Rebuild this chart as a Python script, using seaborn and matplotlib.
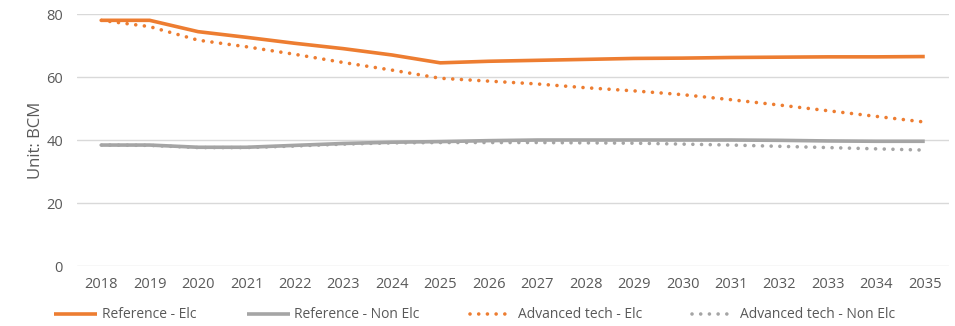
import matplotlib
matplotlib.use("Agg")
import matplotlib.pyplot as plt
import seaborn as sns
import pandas as pd

years = list(range(2018, 2036))
ref_elc = [78.0, 78.0, 74.4, 72.6, 70.7, 69.0, 67.0, 64.5, 65.0, 65.3, 65.6, 65.9, 66.0, 66.2, 66.3, 66.4, 66.4, 66.5]
ref_non = [38.4, 38.4, 37.7, 37.7, 38.3, 38.9, 39.3, 39.5, 39.8, 40.0, 40.0, 40.0, 40.0, 40.0, 39.9, 39.7, 39.6, 39.6]
adv_elc = [78.0, 76.0, 71.7, 69.6, 67.2, 64.6, 62.2, 59.6, 58.7, 57.8, 56.6, 55.6, 54.4, 52.8, 51.1, 49.3, 47.5, 45.7]
adv_non = [38.4, 38.3, 37.6, 37.6, 38.1, 38.7, 39.1, 39.2, 39.2, 39.2, 39.1, 39.0, 38.7, 38.4, 38.0, 37.6, 37.2, 36.8]
series_names = ["Reference - Elc", "Reference - Non Elc", "Advanced tech - Elc", "Advanced tech - Non Elc"]

sns.set_style("white")
plt.rcParams['font.family'] = ['Open Sans', 'DejaVu Sans']

fig = plt.figure(figsize=(9.55, 3.26), dpi=100)
ax = fig.add_axes([0.0806, 0.184, 0.9131, 0.773])

orange = "#ED7D31"
gray = "#A5A5A5"
styles = [
    (ref_elc, orange, "-"),
    (ref_non, gray, "-"),
    (adv_elc, orange, (0, (0.01, 2.4))),
    (adv_non, gray, (0, (0.01, 2.4))),
]
for name, (vals, col, ls) in zip(series_names, styles):
    df = pd.DataFrame({"year": years, "value": vals})
    sns.lineplot(data=df, x="year", y="value", ax=ax, color=col, linestyle=ls,
                 linewidth=2.6, label=name, solid_capstyle="butt",
                 dash_capstyle="round")

ax.set_xlim(2017.5, 2035.5)
ax.set_ylim(0, 80)
ax.set_xticks(years)
ax.set_xticklabels([str(y) for y in years])
ax.set_yticks([0, 20, 40, 60, 80])
ax.grid(axis="y", color="#D9D9D9", linewidth=1.0)
ax.set_axisbelow(True)
for s in ax.spines.values():
    s.set_visible(False)
ax.tick_params(axis="both", length=0, labelsize=10.5, labelcolor="#595959")
ax.tick_params(axis="x", pad=8)
ax.tick_params(axis="y", pad=10)
ax.set_xlabel("")
ax.set_ylabel("Unit: BCM", fontsize=12, color="#595959", labelpad=2)

leg = ax.legend(loc="upper center", bbox_to_anchor=(0.456, -0.115), ncol=4,
                frameon=False, fontsize=10, handlelength=3.1, columnspacing=3.6,
                handletextpad=0.35)
for t in leg.get_texts():
    t.set_color("#595959")

fig.savefig("out.png", dpi=100)
